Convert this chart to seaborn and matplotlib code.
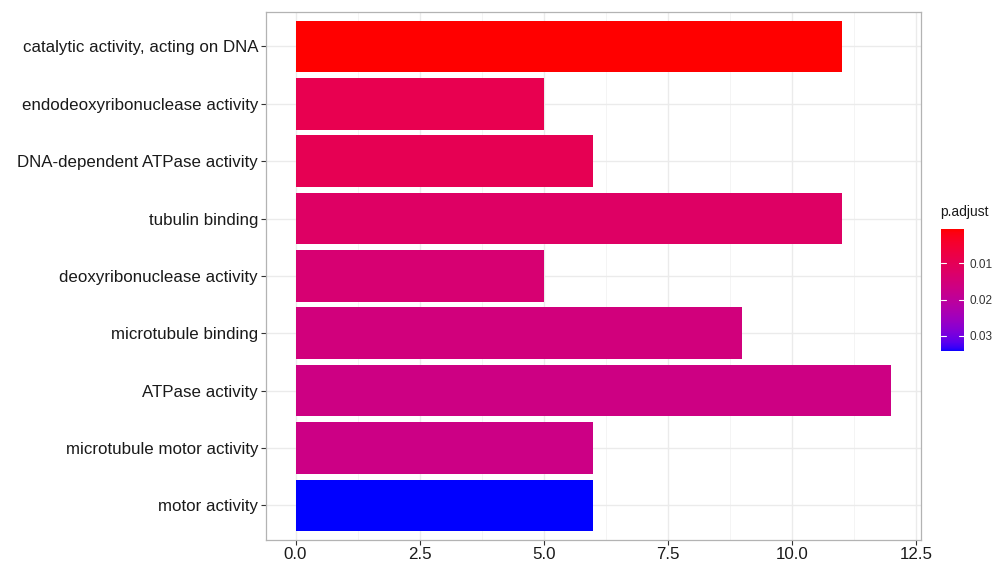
import numpy as np
import pandas as pd
import matplotlib
matplotlib.use("Agg")
import matplotlib.pyplot as plt
import seaborn as sns
from matplotlib.colors import LinearSegmentedColormap, Normalize
from matplotlib.cm import ScalarMappable
from matplotlib.ticker import MultipleLocator


terms = [
    "catalytic activity, acting on DNA",
    "endodeoxyribonuclease activity",
    "DNA-dependent ATPase activity",
    "tubulin binding",
    "deoxyribonuclease activity",
    "microtubule binding",
    "ATPase activity",
    "microtubule motor activity",
    "motor activity",
]
counts = [11, 5, 6, 11, 5, 9, 12, 6, 6]
p_adjust = [0.0005, 0.0090, 0.0095, 0.0120, 0.0140, 0.0155, 0.0165, 0.0170, 0.0343]


# red -> blue gradient interpolated in Lab space, like ggplot's default
def srgb_to_lab(rgb):
    rgb = np.asarray(rgb, float)
    lin = np.where(rgb <= 0.04045, rgb / 12.92, ((rgb + 0.055) / 1.055) ** 2.4)
    m = np.array([[0.4124, 0.3576, 0.1805],
                  [0.2126, 0.7152, 0.0722],
                  [0.0193, 0.1192, 0.9505]])
    xyz = m @ lin / np.array([0.95047, 1.0, 1.08883])
    f = np.where(xyz > 0.008856, np.cbrt(xyz), 7.787 * xyz + 16 / 116)
    return np.array([116 * f[1] - 16, 500 * (f[0] - f[1]), 200 * (f[1] - f[2])])


def lab_to_srgb(lab):
    L, a, b = lab
    fy = (L + 16) / 116
    fx = fy + a / 500
    fz = fy - b / 200
    f = np.array([fx, fy, fz])
    xyz = np.where(f ** 3 > 0.008856, f ** 3, (f - 16 / 116) / 7.787)
    xyz = xyz * np.array([0.95047, 1.0, 1.08883])
    m = np.array([[3.2406, -1.5372, -0.4986],
                  [-0.9689, 1.8758, 0.0415],
                  [0.0557, -0.2040, 1.0570]])
    lin = m @ xyz
    lin = np.clip(lin, 0, 1)
    rgb = np.where(lin <= 0.0031308, 12.92 * lin, 1.055 * lin ** (1 / 2.4) - 0.055)
    return np.clip(rgb, 0, 1)


lab_red = srgb_to_lab([1, 0, 0])
lab_blue = srgb_to_lab([0, 0, 1])
grad = [lab_to_srgb(lab_red + t * (lab_blue - lab_red)) for t in np.linspace(0, 1, 256)]
cmap = LinearSegmentedColormap.from_list("red_blue", grad)

norm = Normalize(vmin=min(p_adjust), vmax=max(p_adjust))
bar_colors = [cmap(norm(p)) for p in p_adjust]

df = pd.DataFrame({"Description": terms, "Count": counts, "p.adjust": p_adjust})

sns.set_style("whitegrid")
plt.rcParams["font.family"] = ["Liberation Sans", "DejaVu Sans"]

fig = plt.figure(figsize=(9.99, 5.70), dpi=100)
ax = fig.add_axes([0.266, 0.053, 0.656, 0.926])

sns.barplot(data=df, x="Count", y="Description", hue="Description",
            palette=bar_colors, legend=False, width=0.9, saturation=1,
            linewidth=0, ax=ax)

ax.set_xlim(-0.6, 12.6)
ax.set_ylim(len(terms) - 0.4, -0.6)
ax.xaxis.set_minor_locator(MultipleLocator(1.25))
ax.set_xticks([0, 2.5, 5, 7.5, 10, 12.5])
ax.set_xticklabels(["0.0", "2.5", "5.0", "7.5", "10.0", "12.5"])
ax.set_xlabel("")
ax.set_ylabel("")

ax.set_axisbelow(True)
ax.grid(which="major", color="#EBEBEB", linewidth=1.0)
ax.grid(which="minor", axis="x", color="#F2F2F2", linewidth=0.6)
for s in ax.spines.values():
    s.set_color("#B3B3B3")
    s.set_linewidth(0.9)
ax.tick_params(axis="both", which="major", length=3.5, width=0.8, color="#333333",
               labelsize=12.2, labelcolor="#1A1A1A", pad=2, left=True, bottom=True)
ax.tick_params(axis="x", which="minor", length=0)

cax = fig.add_axes([0.942, 0.384, 0.023, 0.214])
sm = ScalarMappable(norm=norm, cmap=cmap)
cb = fig.colorbar(sm, cax=cax)
cb.set_ticks([0.01, 0.02, 0.03])
cb.set_ticklabels(["0.01", "0.02", "0.03"])
cb.outline.set_visible(False)
cax.invert_yaxis()
cax.tick_params(length=0, labelsize=8.5, labelcolor="#333333", pad=4)
for t in [0.01, 0.02, 0.03]:
    cax.axhline(t, xmin=0, xmax=0.2, color="white", linewidth=0.8)
    cax.axhline(t, xmin=0.8, xmax=1, color="white", linewidth=0.8)
fig.text(0.941, 0.615, "p.adjust", fontsize=10, color="#1A1A1A", ha="left", va="bottom")

fig.savefig("out.png", dpi=100)
